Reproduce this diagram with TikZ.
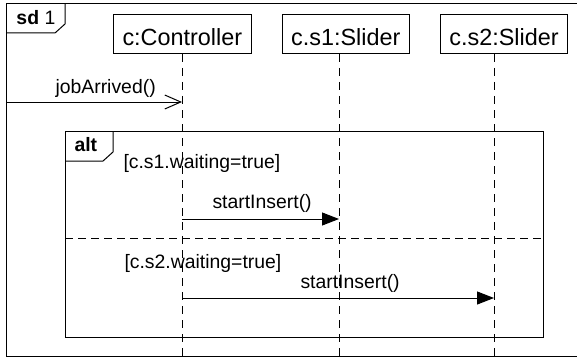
\documentclass[tikz,border=0pt]{standalone}
\usepackage{fontspec}
\setmainfont{Liberation Sans}
\usetikzlibrary{arrows.meta}
\usetikzlibrary{positioning}

\begin{document}
\begin{tikzpicture}[x=0.5pt, y=-0.5pt, node distance=15pt, line width=0.5pt,
    objbox/.style={draw, font=\fontsize{11.7}{14}\selectfont, inner xsep=4.5pt,
        text height=11.5pt, text depth=0pt, minimum height=19.5pt},
    txt/.style={font=\fontsize{9.7}{12}\selectfont, inner sep=0pt, anchor=base west},
    lifeline/.style={dash pattern=on 4pt off 3pt},
    divider/.style={dash pattern=on 4pt off 2.5pt},
    syncmsg/.style={-{Triangle[length=8.5pt, width=6.5pt]}},
    asyncmsg/.style={-{Straight Barb[length=8pt, width=7pt]}}]
    \useasboundingbox (0,0) rectangle (577,358);

    % frame
    \draw (577,4) -- (6,4) -- (6,356) -- (577,356);
    \draw (6,33) -- (55,33) -- (65,24) -- (65,4);
    \node[txt] (sd) at (16,25) {\textbf{sd} 1};

    \node[objbox, anchor=north west] (ctrl) at (113,14) {c:Controller};
    \node[objbox, right=of ctrl] (s1) {c.s1:Slider};
    \node[objbox, right=of s1] (s2) {c.s2:Slider};

    \coordinate (ctrl-end) at (182,358);
    \coordinate (s1-end) at (339,358);
    \coordinate (s2-end) at (494,358);
    \draw[lifeline] (ctrl-end |- ctrl.south) -- (ctrl-end);
    \draw[lifeline] (s1-end |- s1.south) -- (s1-end);
    \draw[lifeline] (s2-end |- s2.south) -- (s2-end);

    \coordinate (gate) at (6,102);
    \coordinate (ctrl-m0) at (ctrl-end |- gate);
    \draw[asyncmsg] (gate) -- (ctrl-m0);
    \node[txt] (m0) at (55,94) {jobArrived()};

    % alt fragment
    \draw (65,131) rectangle (543,337);
    \draw (65,161) -- (103,161) -- (113,152) -- (113,131);
    \node[txt] (alt) at (74,151) {\textbf{alt}};
    \node[txt] (g1) at (123,168) {[c.s1.waiting=true]};

    \coordinate (ctrl-m1) at (182,219);
    \coordinate (s1-m1) at (339,219);
    \draw[syncmsg] (ctrl-m1) -- (s1-m1);
    \node[txt] (m1) at (212,208) {startInsert()};

    \draw[divider] (65,238) -- (543,238);
    \node[txt] (g2) at (124,268) {[c.s2.waiting=true]};

    \coordinate (ctrl-m2) at (182,298);
    \coordinate (s2-m2) at (494,298);
    \draw[syncmsg] (ctrl-m2) -- (s2-m2);
    \node[txt] (m2) at (300,288) {startInsert()};
\end{tikzpicture}
\end{document}
